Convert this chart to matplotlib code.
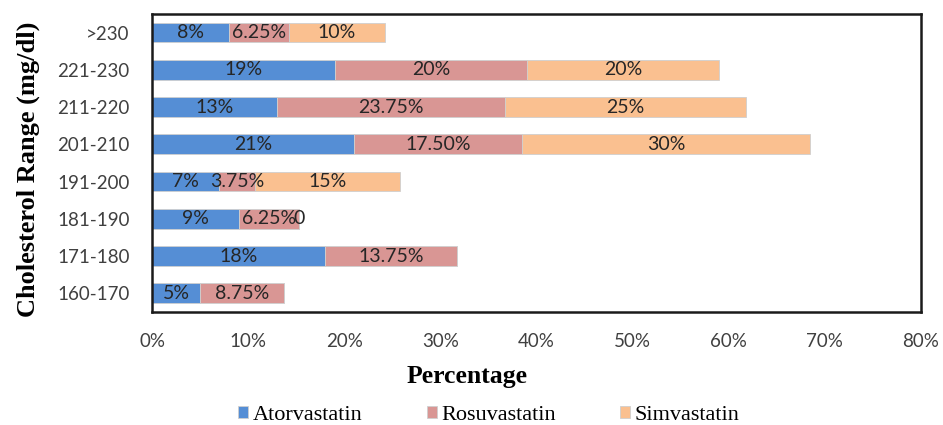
import matplotlib.pyplot as plt
import numpy as np

# Cholesterol ranges (bottom to top) and share of each statin
ranges = ['160-170', '171-180', '181-190', '191-200', '201-210', '211-220', '221-230', '>230']
atorvastatin = [5, 18, 9, 7, 21, 13, 19, 8]
rosuvastatin = [8.75, 13.75, 6.25, 3.75, 17.5, 23.75, 20, 6.25]
simvastatin = [0, 0, 0, 15, 30, 25, 20, 10]

# labels as printed on the bars
atorvastatin_labels = ['5%', '18%', '9%', '7%', '21%', '13%', '19%', '8%']
rosuvastatin_labels = ['8.75%', '13.75%', '6.25%', '3.75%', '17.50%', '23.75%', '20%', '6.25%']
simvastatin_labels = ['', '', '0', '15%', '30%', '25%', '20%', '10%']

xticks = list(range(0, 81, 10))

fig = plt.figure(figsize=(9.43, 4.25), dpi=100)
ax = fig.add_axes([0.1612, 0.2659, 0.8155, 0.7012])

y = np.arange(len(ranges))
bar_h = 0.53
edge = '#cfcfcf'

b1 = ax.barh(y, atorvastatin, height=bar_h, color='#558ED5', edgecolor=edge,
             linewidth=0.6, label='Atorvastatin')
left2 = np.array(atorvastatin)
b2 = ax.barh(y, rosuvastatin, left=left2, height=bar_h, color='#D99694',
             edgecolor=edge, linewidth=0.6, label='Rosuvastatin')
left3 = left2 + np.array(rosuvastatin)
b3 = ax.barh(y, simvastatin, left=left3, height=bar_h, color='#FAC090',
             edgecolor=edge, linewidth=0.6, label='Simvastatin')

for bars, labs in [(b1, atorvastatin_labels), (b2, rosuvastatin_labels), (b3, simvastatin_labels)]:
    ax.bar_label(bars, labels=labs, label_type='center', fontsize=14,
                 color='#262626', family='Lato')

ax.set_xlim(0, 80)
ax.set_ylim(-0.5, 7.5)
ax.set_xticks(xticks)
ax.set_xticklabels([f'{t}%' for t in xticks], fontsize=13.5, family='Lato', color='#404040')
ax.set_yticks(y)
ax.set_yticklabels(ranges, fontsize=13.5, family='Lato', color='#404040')
ax.tick_params(axis='x', length=0, pad=15)
ax.tick_params(axis='y', length=0, pad=16)

for s in ax.spines.values():
    s.set_color('#1a1a1a')
    s.set_linewidth(1.8)

ax.set_xlabel('Percentage', fontsize=18.5, fontweight='bold', family='Liberation Serif')
ax.xaxis.label.set_verticalalignment('center')
ax.xaxis.set_label_coords(0.4096, -0.215)

ax.set_ylabel('Cholesterol Range (mg/dl)', fontsize=19, fontweight='bold', family='Liberation Serif')
ax.yaxis.label.set_verticalalignment('center')
ax.yaxis.set_label_coords(-0.161, 0.48)

fig.legend(handles=[b1, b2, b3], loc='center', bbox_to_anchor=(489 / 943, 1 - 415 / 425),
           ncol=3, frameon=False, prop={'family': 'Liberation Serif', 'size': 16},
           handlelength=0.45, handleheight=0.45, handletextpad=0.2, columnspacing=2.9)

fig.savefig('out.png', dpi=100)
